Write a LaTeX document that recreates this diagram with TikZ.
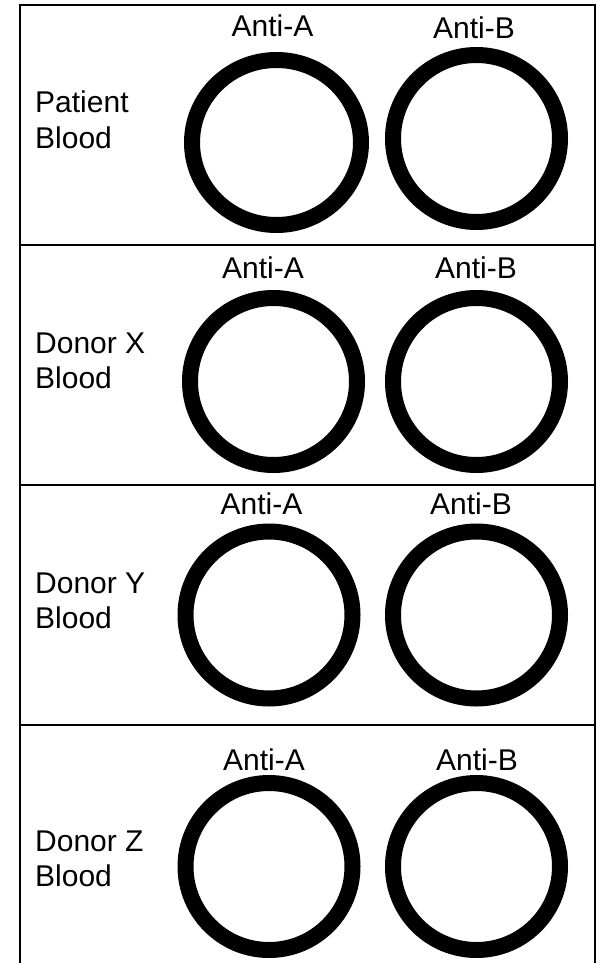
\documentclass[tikz,border=0pt]{standalone}
\usepackage{fontspec}
\setmainfont{Liberation Sans}
\usetikzlibrary{shapes.geometric}
\begin{document}
\begin{tikzpicture}[x=1pt,y=-1pt,
  frame/.style={line width=1.8pt,black},
  well/.style={draw,circle,line width=16pt,minimum size=167pt,inner sep=0pt},
  wellel/.style={draw,ellipse,line width=16pt,minimum width=169pt,minimum height=165pt,inner sep=0pt},
  lbl/.style={inner sep=0pt,font=\fontsize{30pt}{35pt}\selectfont},
  side/.style={lbl,anchor=base west},
  top/.style={lbl,anchor=base}]
\useasboundingbox (0,0) rectangle (603,963);
% frame
\coordinate (tl) at (20,5);
\coordinate (tr) at (595,5);
\coordinate (bl) at (20,963);
\coordinate (br) at (595,963);
\coordinate (d1l) at (20,245); \coordinate (d1r) at (595,245);
\coordinate (d2l) at (20,485); \coordinate (d2r) at (595,485);
\coordinate (d3l) at (20,725); \coordinate (d3r) at (595,725);
\draw[frame] (bl) -- (tl) -- (tr) -- (br);
\draw[frame] (d1l) -- (d1r);
\draw[frame] (d2l) -- (d2r);
\draw[frame] (d3l) -- (d3r);
% row 1
\node[side] (p1) at (35,113) {Patient};
\node[side] (p2) at (35,148) {Blood};
\node[top] (pa) at (272.5,37) {Anti-A};
\node[top] (pb) at (474,39) {Anti-B};
\node[wellel] (pwa) at (276.5,142.5) {};
\node[well] (pwb) at (476.5,138.5) {};
% row 2
\node[side] (x1) at (35,353) {Donor X};
\node[side] (x2) at (35,388) {Blood};
\node[top] (xa) at (263,278) {Anti-A};
\node[top] (xb) at (476,278) {Anti-B};
\node[well] (xwa) at (273.5,381.5) {};
\node[well] (xwb) at (476.5,381.5) {};
% row 3
\node[side] (y1) at (35,593) {Donor Y};
\node[side] (y2) at (35,628) {Blood};
\node[top] (ya) at (261.5,514) {Anti-A};
\node[top] (yb) at (471,514) {Anti-B};
\node[well] (ywa) at (269,615) {};
\node[well] (ywb) at (476.5,615) {};
% row 4
\node[side] (z1) at (35,851) {Donor Z};
\node[side] (z2) at (35,886) {Blood};
\node[top] (za) at (264,770) {Anti-A};
\node[top] (zb) at (477,770) {Anti-B};
\node[well] (zwa) at (269,866.5) {};
\node[well] (zwb) at (476.5,866.5) {};
\end{tikzpicture}
\end{document}
